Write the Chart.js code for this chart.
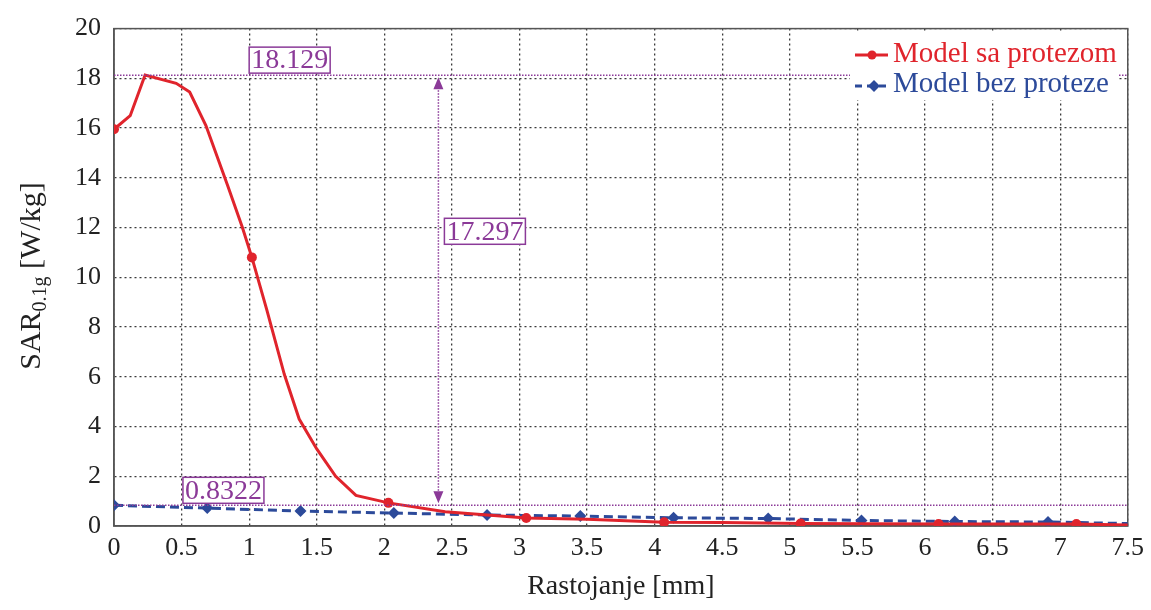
<!DOCTYPE html>
<html>
<head>
<meta charset="utf-8">
<script src="https://cdn.jsdelivr.net/npm/chart.js@4/dist/chart.umd.min.js"></script>
<style>
  html, body { margin: 0; padding: 0; background: #ffffff; }
</style>
</head>
<body>
<canvas id="sarChart" width="1151" height="610"></canvas>
<script>
// Model sa protezom (full curve)
const redX = [0, 0.12, 0.23, 0.46, 0.56, 0.68, 0.84, 0.95, 1.02, 1.13, 1.26, 1.37, 1.5, 1.64, 1.79, 2.03, 2.45, 3.05, 3.5, 4.07, 4.5, 5.08, 6.1, 7.12, 7.5];
const redY = [15.95, 16.5, 18.13, 17.8, 17.45, 16.1, 13.7, 12.0, 10.8, 8.7, 6.1, 4.3, 3.1, 2.0, 1.23, 0.93, 0.57, 0.32, 0.27, 0.15, 0.14, 0.1, 0.08, 0.08, 0.04];
// Model sa protezom (marked points)
const redMarkX = [0, 1.02, 2.03, 3.05, 4.07, 5.08, 6.1, 7.12];
const redMarkY = [15.95, 10.8, 0.93, 0.32, 0.15, 0.1, 0.08, 0.08];
// Model bez proteze
const blueX = [0, 0.69, 1.38, 2.07, 2.76, 3.45, 4.14, 4.84, 5.53, 6.22, 6.91, 7.5];
const blueY = [0.83, 0.72, 0.6, 0.52, 0.44, 0.4, 0.33, 0.3, 0.22, 0.18, 0.16, 0.1];

const xTicks = ['0', '0.5', '1', '1.5', '2', '2.5', '3', '3.5', '4', '4.5', '5', '5.5', '6', '6.5', '7', '7.5'];
const yTicks = [0, 2, 4, 6, 8, 10, 12, 14, 16, 18, 20];

const seriesNames = ['Model sa protezom', 'Model bez proteze'];
const peakValue = 18.129;
const baseValue = 0.8322;
const diffLabel = '17.297';
const arrowAt = 2.4;

const RED = '#e0242c';
const BLUE = '#2c4a9a';
const PURPLE = '#8b3a98';
const SERIF = '"Liberation Serif", "DejaVu Serif", serif';

function toPoints(xs, ys) {
  return xs.map((x, i) => ({ x: x, y: ys[i] }));
}

// axis frame, y title, x title
const framePlugin = {
  id: 'frame',
  beforeDatasetsDraw(chart) {
    const { ctx, chartArea: a } = chart;
    ctx.save();
    ctx.strokeStyle = '#555';
    ctx.lineWidth = 1.5;
    ctx.strokeRect(a.left, a.top, a.right - a.left, a.bottom - a.top);
    ctx.restore();
  },
  afterDraw(chart) {
    const { ctx, chartArea: a } = chart;
    ctx.save();
    ctx.fillStyle = '#222';
    // x title
    ctx.font = '28px ' + SERIF;
    ctx.textAlign = 'center';
    ctx.textBaseline = 'alphabetic';
    ctx.fillText('Rastojanje [mm]', (a.left + a.right) / 2, 594);
    // y title with subscript
    ctx.translate(40, 276);
    ctx.rotate(-Math.PI / 2);
    const big = '30px ' + SERIF, small = '20px ' + SERIF;
    ctx.font = big; const w1 = ctx.measureText('SAR').width;
    ctx.font = small; const w2 = ctx.measureText('0.1g').width;
    ctx.font = big; const w3 = ctx.measureText(' [W/kg]').width;
    let x = -(w1 + w2 + w3) / 2;
    ctx.textAlign = 'left';
    ctx.font = big; ctx.fillText('SAR', x, 0); x += w1;
    ctx.font = small; ctx.fillText('0.1g', x, 6); x += w2;
    ctx.font = big; ctx.fillText(' [W/kg]', x, 0);
    ctx.restore();
  }
};

// purple dimension lines, labels and legend
const notesPlugin = {
  id: 'notes',
  afterDatasetsDraw(chart) {
    const { ctx, chartArea: a, scales: { x, y } } = chart;
    ctx.save();
    ctx.strokeStyle = PURPLE;
    ctx.fillStyle = PURPLE;
    ctx.lineWidth = 1.5;
    ctx.setLineDash([1.5, 1.5]);
    const yPeak = y.getPixelForValue(peakValue);
    const yBase = y.getPixelForValue(baseValue);
    const xa = x.getPixelForValue(arrowAt);
    ctx.beginPath();
    ctx.moveTo(a.left, yPeak); ctx.lineTo(a.right, yPeak);
    ctx.moveTo(a.left, yBase); ctx.lineTo(a.right, yBase);
    ctx.moveTo(xa, yPeak + 12); ctx.lineTo(xa, yBase - 12);
    ctx.stroke();
    ctx.setLineDash([]);
    // arrow heads
    ctx.beginPath();
    ctx.moveTo(xa, yPeak + 2); ctx.lineTo(xa - 5, yPeak + 14); ctx.lineTo(xa + 5, yPeak + 14); ctx.closePath();
    ctx.moveTo(xa, yBase - 2); ctx.lineTo(xa - 5, yBase - 14); ctx.lineTo(xa + 5, yBase - 14); ctx.closePath();
    ctx.fill();

    // boxed labels
    ctx.font = '28px ' + SERIF;
    ctx.textBaseline = 'middle';
    ctx.textAlign = 'left';
    ctx.lineWidth = 1.5;
    function box(text, left, cy) {
      const w = ctx.measureText(text).width + 4;
      ctx.fillStyle = '#fff';
      ctx.fillRect(left, cy - 13, w, 26);
      ctx.strokeRect(left, cy - 13, w, 26);
      ctx.fillStyle = PURPLE;
      ctx.fillText(text, left + 2, cy + 1);
    }
    box(String(peakValue), x.getPixelForValue(1.0), yPeak - 15);
    box(String(baseValue), x.getPixelForValue(0.51), yBase - 15);
    box(diffLabel, xa + 6, y.getPixelForValue(11.85));

    // legend
    ctx.fillStyle = '#fff';
    ctx.fillRect(850, 32, 268, 68);
    ctx.font = '29px ' + SERIF;
    ctx.lineWidth = 3;
    ctx.strokeStyle = RED;
    ctx.beginPath(); ctx.moveTo(855, 55); ctx.lineTo(888, 55); ctx.stroke();
    ctx.fillStyle = RED;
    ctx.beginPath(); ctx.arc(872, 55, 4.5, 0, Math.PI * 2); ctx.fill();
    ctx.fillText(seriesNames[0], 893, 54);
    ctx.strokeStyle = BLUE;
    ctx.setLineDash([7, 5]);
    ctx.beginPath(); ctx.moveTo(855, 86); ctx.lineTo(890, 86); ctx.stroke();
    ctx.setLineDash([]);
    ctx.fillStyle = BLUE;
    ctx.beginPath(); ctx.moveTo(874, 80); ctx.lineTo(880, 86); ctx.lineTo(874, 92); ctx.lineTo(868, 86); ctx.closePath(); ctx.fill();
    ctx.fillText(seriesNames[1], 893, 84);
    ctx.restore();
  }
};

const ctx = document.getElementById('sarChart').getContext('2d');
new Chart(ctx, {
  type: 'scatter',
  data: {
    datasets: [
      {
        label: seriesNames[0],
        data: toPoints(redMarkX, redMarkY),
        showLine: false,
        pointRadius: 5,
        pointBackgroundColor: RED,
        pointBorderWidth: 0
      },
      {
        label: seriesNames[0],
        data: toPoints(redX, redY),
        showLine: true,
        borderColor: RED,
        borderWidth: 3,
        pointRadius: 0,
        tension: 0
      },
      {
        label: seriesNames[1],
        data: toPoints(blueX, blueY),
        showLine: true,
        borderColor: BLUE,
        borderWidth: 3,
        borderDash: [9, 5],
        pointStyle: 'rectRot',
        pointRadius: c => (c.dataIndex === blueX.length - 1 ? 0 : 6),
        pointBackgroundColor: BLUE,
        pointBorderWidth: 0,
        tension: 0
      }
    ]
  },
  options: {
    responsive: false,
    animation: false,
    layout: { padding: { top: 22, right: 23, left: 0, bottom: 0 } },
    plugins: {
      legend: { display: false },
      tooltip: { enabled: false }
    },
    scales: {
      x: {
        type: 'linear',
        min: 0,
        max: 7.5,
        afterBuildTicks: s => { s.ticks = xTicks.map(t => ({ value: parseFloat(t) })); },
        afterFit: s => { s.height = 84; },
        ticks: {
          callback: (v, i) => xTicks[i],
          font: { family: SERIF, size: 26 },
          color: '#222',
          padding: 7,
          maxRotation: 0,
          autoSkip: false
        },
        grid: { color: '#3a3a3a', lineWidth: 1.3, drawTicks: false },
        border: { display: true, color: '#555', width: 1.5, dash: [2, 3] }
      },
      y: {
        min: 0,
        max: 20,
        afterBuildTicks: s => { s.ticks = yTicks.map(t => ({ value: t })); },
        afterFit: s => { s.width = 114; },
        ticks: {
          callback: v => String(v),
          font: { family: SERIF, size: 26 },
          color: '#222',
          padding: 13
        },
        grid: { color: '#3a3a3a', lineWidth: 1.3, drawTicks: false },
        border: { display: true, color: '#555', width: 1.5, dash: [2, 3] }
      }
    }
  },
  plugins: [framePlugin, notesPlugin]
});
</script>
</body>
</html>
